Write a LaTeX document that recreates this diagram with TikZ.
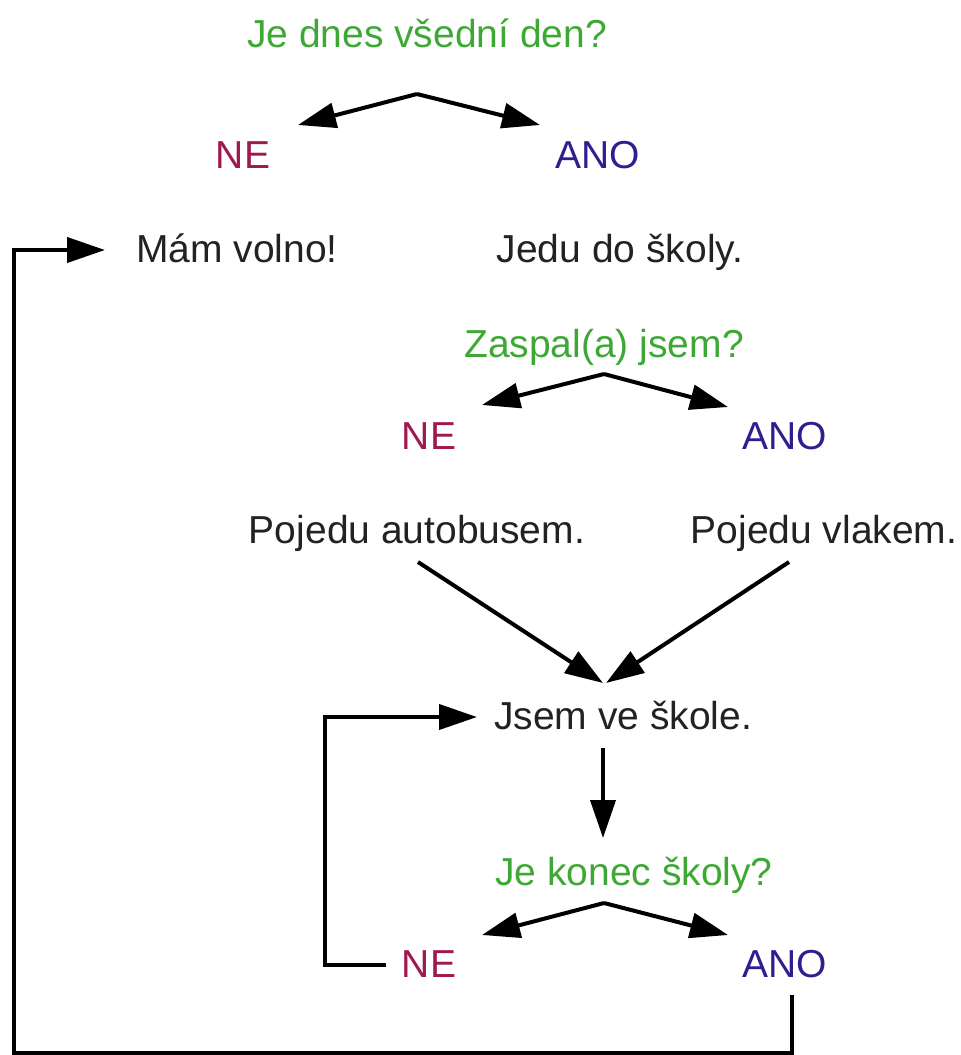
\documentclass[tikz,border=0pt]{standalone}
\usepackage{fontspec}
\setmainfont{Liberation Sans}
\usetikzlibrary{arrows.meta,positioning}
\definecolor{askgreen}{RGB}{61,168,52}
\definecolor{nored}{RGB}{160,24,80}
\definecolor{yesblue}{RGB}{48,30,145}
\definecolor{textgray}{RGB}{34,34,34}

\begin{document}
\begin{tikzpicture}[
    x=0.5pt,
    y=-0.5pt,
    txt/.style ={
        anchor=base,
        inner sep=0pt,
        font=\fontsize{19.5}{23}\selectfont,
        text=textgray,
    },
    ask/.style={txt, text=askgreen},
    no/.style={txt, text=nored},
    yes/.style={txt, text=yesblue},
    wire/.style={line width=2pt},
    link/.style={wire, -{Triangle[length=19pt,width=12.5pt]}}
    ]
    \useasboundingbox (0,0) rectangle (961,1055);

    % first question
    \node[ask] (weekday) at (427,47) {Je dnes všední den?};
    \node[no] (no1) at (243,168) {NE};
    \node[yes] (yes1) at (598,168) {ANO};
    \node[txt] (free) at (237,262) {Mám volno!};
    \node[txt] (school) at (620,262) {Jedu do školy.};

    % second question
    \node[ask] (late) at (604,357) {Zaspal(a) jsem?};
    \node[no] (no2) at (429,449) {NE};
    \node[yes] (yes2) at (785,449) {ANO};
    \node[txt] (bus) at (417,543) {Pojedu autobusem.};
    \node[txt] (train) at (824,543) {Pojedu vlakem.};
    \node[txt] (there) at (623,729) {Jsem ve škole.};

    % third question
    \node[ask] (over) at (634,885) {Je konec školy?};
    \node[no] (no3) at (429,977) {NE};
    \node[yes] (yes3) at (785,977) {ANO};

    % arrow ends
    \coordinate (tip1) at (417,94);
    \coordinate (tip1no) at (298,125);
    \coordinate (tip1yes) at (540,125);
    \coordinate (tip2) at (604,374);
    \coordinate (tip2no) at (482,405);
    \coordinate (tip2yes) at (728,407);
    \coordinate (busout) at (418,562);
    \coordinate (trainout) at (789,562);
    \coordinate (arrive1) at (603,683);
    \coordinate (arrive2) at (606,683);
    \coordinate (thereout) at (603,748);
    \coordinate (overin) at (603,838);
    \coordinate (tip3) at (604,903);
    \coordinate (tip3no) at (482,935);
    \coordinate (tip3yes) at (728,935);
    \coordinate (no3out) at (386,965);
    \coordinate (loopleft) at (325,965);
    \coordinate (therein) at (477,717);
    \coordinate (yes3out) at (792,995);
    \coordinate (bottom) at (792,1053);
    \coordinate (farleft) at (14,1053);
    \coordinate (freein) at (105,250);

    \draw[link] (tip1) -- (tip1no);
    \draw[link] (tip1) -- (tip1yes);
    \draw[link] (tip2) -- (tip2no);
    \draw[link] (tip2) -- (tip2yes);
    \draw[link] (busout) -- (arrive1);
    \draw[link] (trainout) -- (arrive2);
    \draw[link] (thereout) -- (overin);
    \draw[link] (tip3) -- (tip3no);
    \draw[link] (tip3) -- (tip3yes);
    \draw[link] (no3out) -- (loopleft) |- (therein);
    \draw[link] (yes3out) -- (bottom) -- (farleft) |- (freein);
\end{tikzpicture}
\end{document}
